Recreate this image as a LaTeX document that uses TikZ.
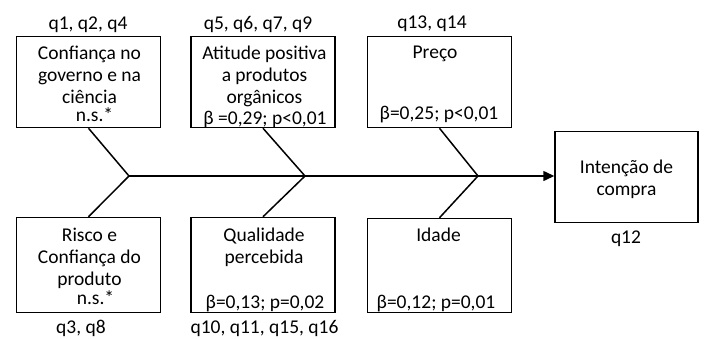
\documentclass[tikz,border=0pt]{standalone}
\usepackage{fontspec}
\setmainfont{Carlito}
\usetikzlibrary{arrows.meta}
\begin{document}
\begin{tikzpicture}[x=1pt,y=-1pt,
  txt/.style={inner sep=0pt,font=\fontsize{19.5}{22}\selectfont},
  lines/.style={txt,align=center,anchor=north},
  single/.style={txt,anchor=base},
  factor/.style={draw,line width=1.5pt,minimum width=144pt,minimum height=91pt,inner sep=0pt},
  bone/.style={line width=1.5pt}]
\useasboundingbox (0,0) rectangle (704,338);
% boxes
\node[factor] (b1) at (88.5,82) {};
\node[factor] (b2) at (263,82) {};
\node[factor] (b3) at (439.5,82) {};
\node[factor,minimum height=95pt] (b4) at (88.5,265) {};
\node[factor,minimum height=95pt] (b5) at (263,265) {};
\node[factor,minimum height=94pt] (b6) at (439.5,265.5) {};
\node[factor,minimum width=143pt] (bi) at (626.5,177) {};
% junctions
\coordinate (j1) at (129,176);
\coordinate (j2) at (305,176);
\coordinate (j3) at (478,176);
% connectors
\draw[bone] (b1.south) -- (j1) -- (b4.north);
\draw[bone] (b2.south) -- (j2) -- (b5.north);
\draw[bone] (b3.south) -- (j3) -- (b6.north);
\draw[bone,-{Triangle[length=11pt,width=10pt]}] (j1) -- (bi.west |- j1);
% box texts
\node[lines] (t1) at (89.5,43.6) {\strut Confiança no\\\strut governo e na\\\strut ciência};
\node[single] (s1) at (94.5,121) {n.s.*};
\node[lines] (t2) at (264.5,43.6) {\strut Atitude positiva\\\strut a produtos\\\strut orgânicos};
\node[single] (s2) at (265,124) {β =0,29; p<0,01};
\node[lines] (t3) at (435,42.6) {\strut Preço};
\node[single] (s3) at (439,119) {β=0,25; p<0,01};
\node[lines] (t4) at (89.5,225.6) {\strut Risco e\\\strut Confiança do\\\strut produto};
\node[single] (s4) at (95.5,304) {n.s.*};
\node[lines] (t5) at (264,225.6) {\strut Qualidade\\\strut percebida};
\node[single] (s5) at (265,308) {β=0,13; p=0,02};
\node[lines] (t6) at (438.5,225.6) {\strut Idade};
\node[single] (s6) at (436,308) {β=0,12; p=0,01};
\node[lines] (ti) at (626.5,157.5) {\strut Intenção de\\\strut compra};
% item labels
\node[single] (q1) at (88,29) {q1, q2, q4};
\node[single] (q2) at (258,29) {q5, q6, q7, q9};
\node[single] (q3) at (432,28) {q13, q14};
\node[single] (q4) at (81,333) {q3, q8};
\node[single] (q5) at (264.5,333) {q10, q11, q15, q16};
\node[single] (q6) at (626,243) {q12};
\end{tikzpicture}
\end{document}
